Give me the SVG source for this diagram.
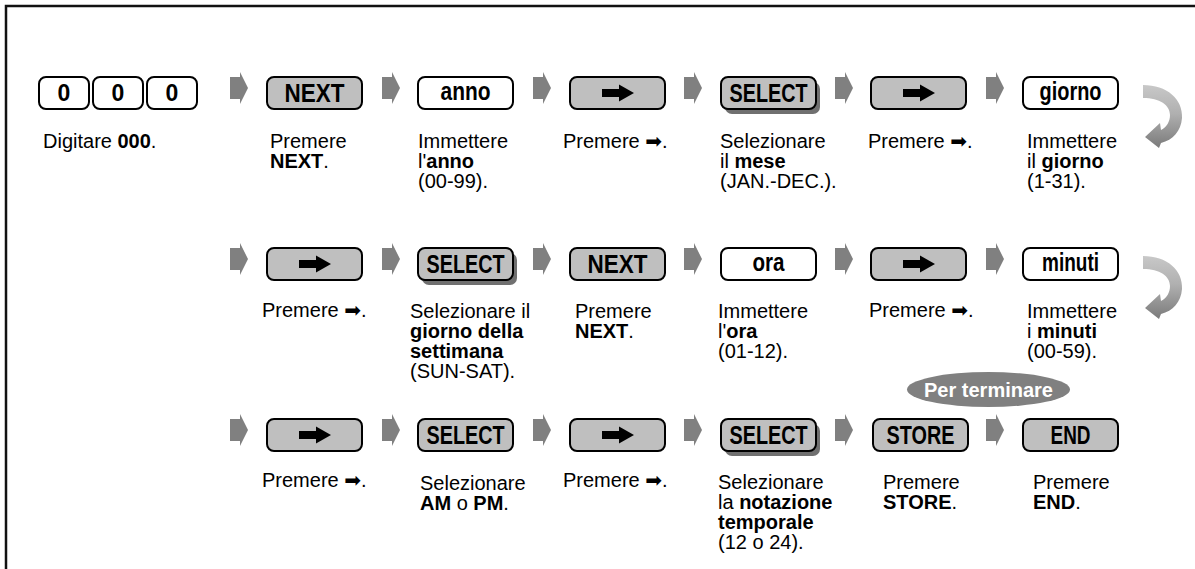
<svg xmlns="http://www.w3.org/2000/svg" width="1195" height="569" viewBox="0 0 1195 569">
<style>
.k{stroke:#000;stroke-width:2}
.g{fill:#bfbfbf}
.w{fill:#fff}
.sh{fill:#707070}
.kl{font-family:"Liberation Sans Narrow","Liberation Sans",Arial,sans-serif;font-weight:bold;font-size:25px;text-anchor:middle;fill:#000}
.kz{font-family:"Liberation Sans",Arial,sans-serif;font-weight:bold;font-size:23px;text-anchor:middle;fill:#000}
.t{font-family:"Liberation Sans",Arial,sans-serif;font-size:20px;fill:#000}
.b{font-weight:bold}
.ar{font-family:"DejaVu Sans",sans-serif;font-size:20px}
.ca{fill:#808080}
.pt{font-family:"Liberation Sans",Arial,sans-serif;font-size:20px;font-weight:bold;fill:#fff;text-anchor:middle}
</style>
<defs>
<path id="chev" d="M0,5 H10 V0 L18,16 L10,32 V27 H0 Z"/>
<path id="icon" d="M0,-4 H17 V-8.5 L32,0 L17,8.5 V4 H0 Z"/>
<linearGradient id="cg" x1="0" y1="0" x2="0" y2="1">
<stop offset="0" stop-color="#c8c8c8"/>
<stop offset="0.45" stop-color="#b0b0b0"/>
<stop offset="1" stop-color="#7a7a7a"/>
</linearGradient>
<path id="curl" d="M0,0 C24,0 40,14 39,33 C38,46 30,55 18,58 L16,63 L2,52 L17,38 L18,45 C24,42 27,36 27,30 C27,20 17,13 0,13 Z"/>
</defs>
<rect width="1195" height="569" fill="#fff"/>
<path d="M1195,6 H6 V569" fill="none" stroke="#111" stroke-width="2.5"/>

<g id="connectors">
<g class="ca">
<use href="#chev" x="230" y="72"/><use href="#chev" x="382" y="72"/><use href="#chev" x="533" y="72"/><use href="#chev" x="684" y="72"/><use href="#chev" x="835" y="72"/><use href="#chev" x="986" y="72"/>
<use href="#chev" x="230" y="243"/><use href="#chev" x="382" y="243"/><use href="#chev" x="533" y="243"/><use href="#chev" x="684" y="243"/><use href="#chev" x="835" y="243"/><use href="#chev" x="986" y="243"/>
<use href="#chev" x="230" y="414"/><use href="#chev" x="382" y="414"/><use href="#chev" x="533" y="414"/><use href="#chev" x="684" y="414"/><use href="#chev" x="835" y="414"/><use href="#chev" x="986" y="414"/>
</g>
<use href="#curl" x="1143" y="85" fill="url(#cg)"/>
<use href="#curl" x="1143" y="256" fill="url(#cg)"/>
</g>

<!-- Row 1 -->
<g id="n-000">
<rect class="k w" x="39" y="77" width="50" height="32" rx="7"/>
<rect class="k w" x="93" y="77" width="50" height="32" rx="7"/>
<rect class="k w" x="147" y="77" width="50" height="32" rx="7"/>
<text class="kz" x="64" y="101">0</text><text class="kz" x="118" y="101">0</text><text class="kz" x="172" y="101">0</text>
<text class="t" x="43" y="148">Digitare <tspan class="b">000</tspan>.</text>
</g>
<g id="n-next1">
<rect class="k g" x="267" y="77" width="95" height="32" rx="7"/>
<text class="kl" x="314.5" y="102" textLength="60" lengthAdjust="spacingAndGlyphs">NEXT</text>
<text class="t" x="270" y="148">Premere</text><text class="t b" x="270" y="168">NEXT<tspan font-weight="normal">.</tspan></text>
</g>
<g id="n-anno">
<rect class="k w" x="418" y="77" width="95" height="32" rx="7"/>
<text class="kl" x="465.5" y="100" textLength="50" lengthAdjust="spacingAndGlyphs">anno</text>
<text class="t" x="418" y="148">Immettere</text><text class="t" x="418" y="168">l'<tspan class="b">anno</tspan></text><text class="t" x="418" y="188">(00-99).</text>
</g>
<g id="n-right1">
<rect class="k g" x="570" y="77" width="95" height="32" rx="7"/>
<use href="#icon" x="602" y="93"/>
<text class="t" x="563" y="148">Premere <tspan class="ar">➡</tspan>.</text>
</g>
<g id="n-select1">
<rect class="sh" x="725" y="82" width="95" height="32" rx="7"/>
<rect class="k g" x="721" y="77" width="95" height="32" rx="7"/>
<text class="kl" x="768.5" y="102" textLength="78" lengthAdjust="spacingAndGlyphs">SELECT</text>
<text class="t" x="720" y="148">Selezionare</text><text class="t" x="720" y="168">il <tspan class="b">mese</tspan></text><text class="t" x="720" y="188">(JAN.-DEC.).</text>
</g>
<g id="n-right2">
<rect class="k g" x="871" y="77" width="95" height="32" rx="7"/>
<use href="#icon" x="903" y="93"/>
<text class="t" x="868" y="148">Premere <tspan class="ar">➡</tspan>.</text>
</g>
<g id="n-giorno">
<rect class="k w" x="1023" y="77" width="95" height="32" rx="7"/>
<text class="kl" x="1070.5" y="100" textLength="62" lengthAdjust="spacingAndGlyphs">giorno</text>
<text class="t" x="1027" y="148">Immettere</text><text class="t" x="1027" y="168">il <tspan class="b">giorno</tspan></text><text class="t" x="1027" y="188">(1-31).</text>
</g>

<!-- Row 2 -->
<g id="n-right3">
<rect class="k g" x="267" y="248" width="95" height="32" rx="7"/>
<use href="#icon" x="299" y="264"/>
<text class="t" x="262" y="317">Premere <tspan class="ar">➡</tspan>.</text>
</g>
<g id="n-select2">
<rect class="sh" x="422" y="253" width="95" height="32" rx="7"/>
<rect class="k g" x="418" y="248" width="95" height="32" rx="7"/>
<text class="kl" x="465.5" y="273" textLength="78" lengthAdjust="spacingAndGlyphs">SELECT</text>
<text class="t" x="410" y="318">Selezionare il</text><text class="t b" x="410" y="338">giorno della</text><text class="t b" x="410" y="358">settimana</text><text class="t" x="410" y="378">(SUN-SAT).</text>
</g>
<g id="n-next2">
<rect class="k g" x="570" y="248" width="95" height="32" rx="7"/>
<text class="kl" x="617.5" y="273" textLength="60" lengthAdjust="spacingAndGlyphs">NEXT</text>
<text class="t" x="575" y="318">Premere</text><text class="t b" x="575" y="338">NEXT<tspan font-weight="normal">.</tspan></text>
</g>
<g id="n-ora">
<rect class="k w" x="721" y="248" width="95" height="32" rx="7"/>
<text class="kl" x="768.5" y="271" textLength="32" lengthAdjust="spacingAndGlyphs">ora</text>
<text class="t" x="718" y="318">Immettere</text><text class="t" x="718" y="338">l'<tspan class="b">ora</tspan></text><text class="t" x="718" y="358">(01-12).</text>
</g>
<g id="n-right4">
<rect class="k g" x="871" y="248" width="95" height="32" rx="7"/>
<use href="#icon" x="903" y="264"/>
<text class="t" x="869" y="317">Premere <tspan class="ar">➡</tspan>.</text>
</g>
<g id="n-minuti">
<rect class="k w" x="1023" y="248" width="95" height="32" rx="7"/>
<text class="kl" x="1070.5" y="271" textLength="57" lengthAdjust="spacingAndGlyphs">minuti</text>
<text class="t" x="1027" y="318">Immettere</text><text class="t" x="1027" y="338">i <tspan class="b">minuti</tspan></text><text class="t" x="1027" y="358">(00-59).</text>
</g>

<g id="n-perterminare">
<ellipse cx="988.5" cy="389.5" rx="81.5" ry="17.5" fill="#808080"/>
<text class="pt" x="988.5" y="396.5">Per terminare</text>
</g>

<!-- Row 3 -->
<g id="n-right5">
<rect class="k g" x="267" y="419" width="95" height="32" rx="7"/>
<use href="#icon" x="299" y="435"/>
<text class="t" x="262" y="487">Premere <tspan class="ar">➡</tspan>.</text>
</g>
<g id="n-select3">
<rect class="k g" x="418" y="419" width="95" height="32" rx="7"/>
<text class="kl" x="465.5" y="444" textLength="78" lengthAdjust="spacingAndGlyphs">SELECT</text>
<text class="t" x="420" y="490">Selezionare</text><text class="t" x="420" y="510"><tspan class="b">AM</tspan> o <tspan class="b">PM</tspan>.</text>
</g>
<g id="n-right6">
<rect class="k g" x="570" y="419" width="95" height="32" rx="7"/>
<use href="#icon" x="602" y="435"/>
<text class="t" x="563" y="487">Premere <tspan class="ar">➡</tspan>.</text>
</g>
<g id="n-select4">
<rect class="sh" x="725" y="424" width="95" height="32" rx="7"/>
<rect class="k g" x="721" y="419" width="95" height="32" rx="7"/>
<text class="kl" x="768.5" y="444" textLength="78" lengthAdjust="spacingAndGlyphs">SELECT</text>
<text class="t" x="718" y="489">Selezionare</text><text class="t" x="718" y="509">la <tspan class="b">notazione</tspan></text><text class="t b" x="718" y="529">temporale</text><text class="t" x="718" y="549">(12 o 24).</text>
</g>
<g id="n-store">
<rect class="k g" x="873" y="419" width="95" height="32" rx="7"/>
<text class="kl" x="920.5" y="444" textLength="68" lengthAdjust="spacingAndGlyphs">STORE</text>
<text class="t" x="883" y="489">Premere</text><text class="t b" x="883" y="509">STORE<tspan font-weight="normal">.</tspan></text>
</g>
<g id="n-end">
<rect class="k g" x="1023" y="419" width="95" height="32" rx="7"/>
<text class="kl" x="1070.5" y="444" textLength="40" lengthAdjust="spacingAndGlyphs">END</text>
<text class="t" x="1033" y="489">Premere</text><text class="t b" x="1033" y="509">END<tspan font-weight="normal">.</tspan></text>
</g>
</svg>
